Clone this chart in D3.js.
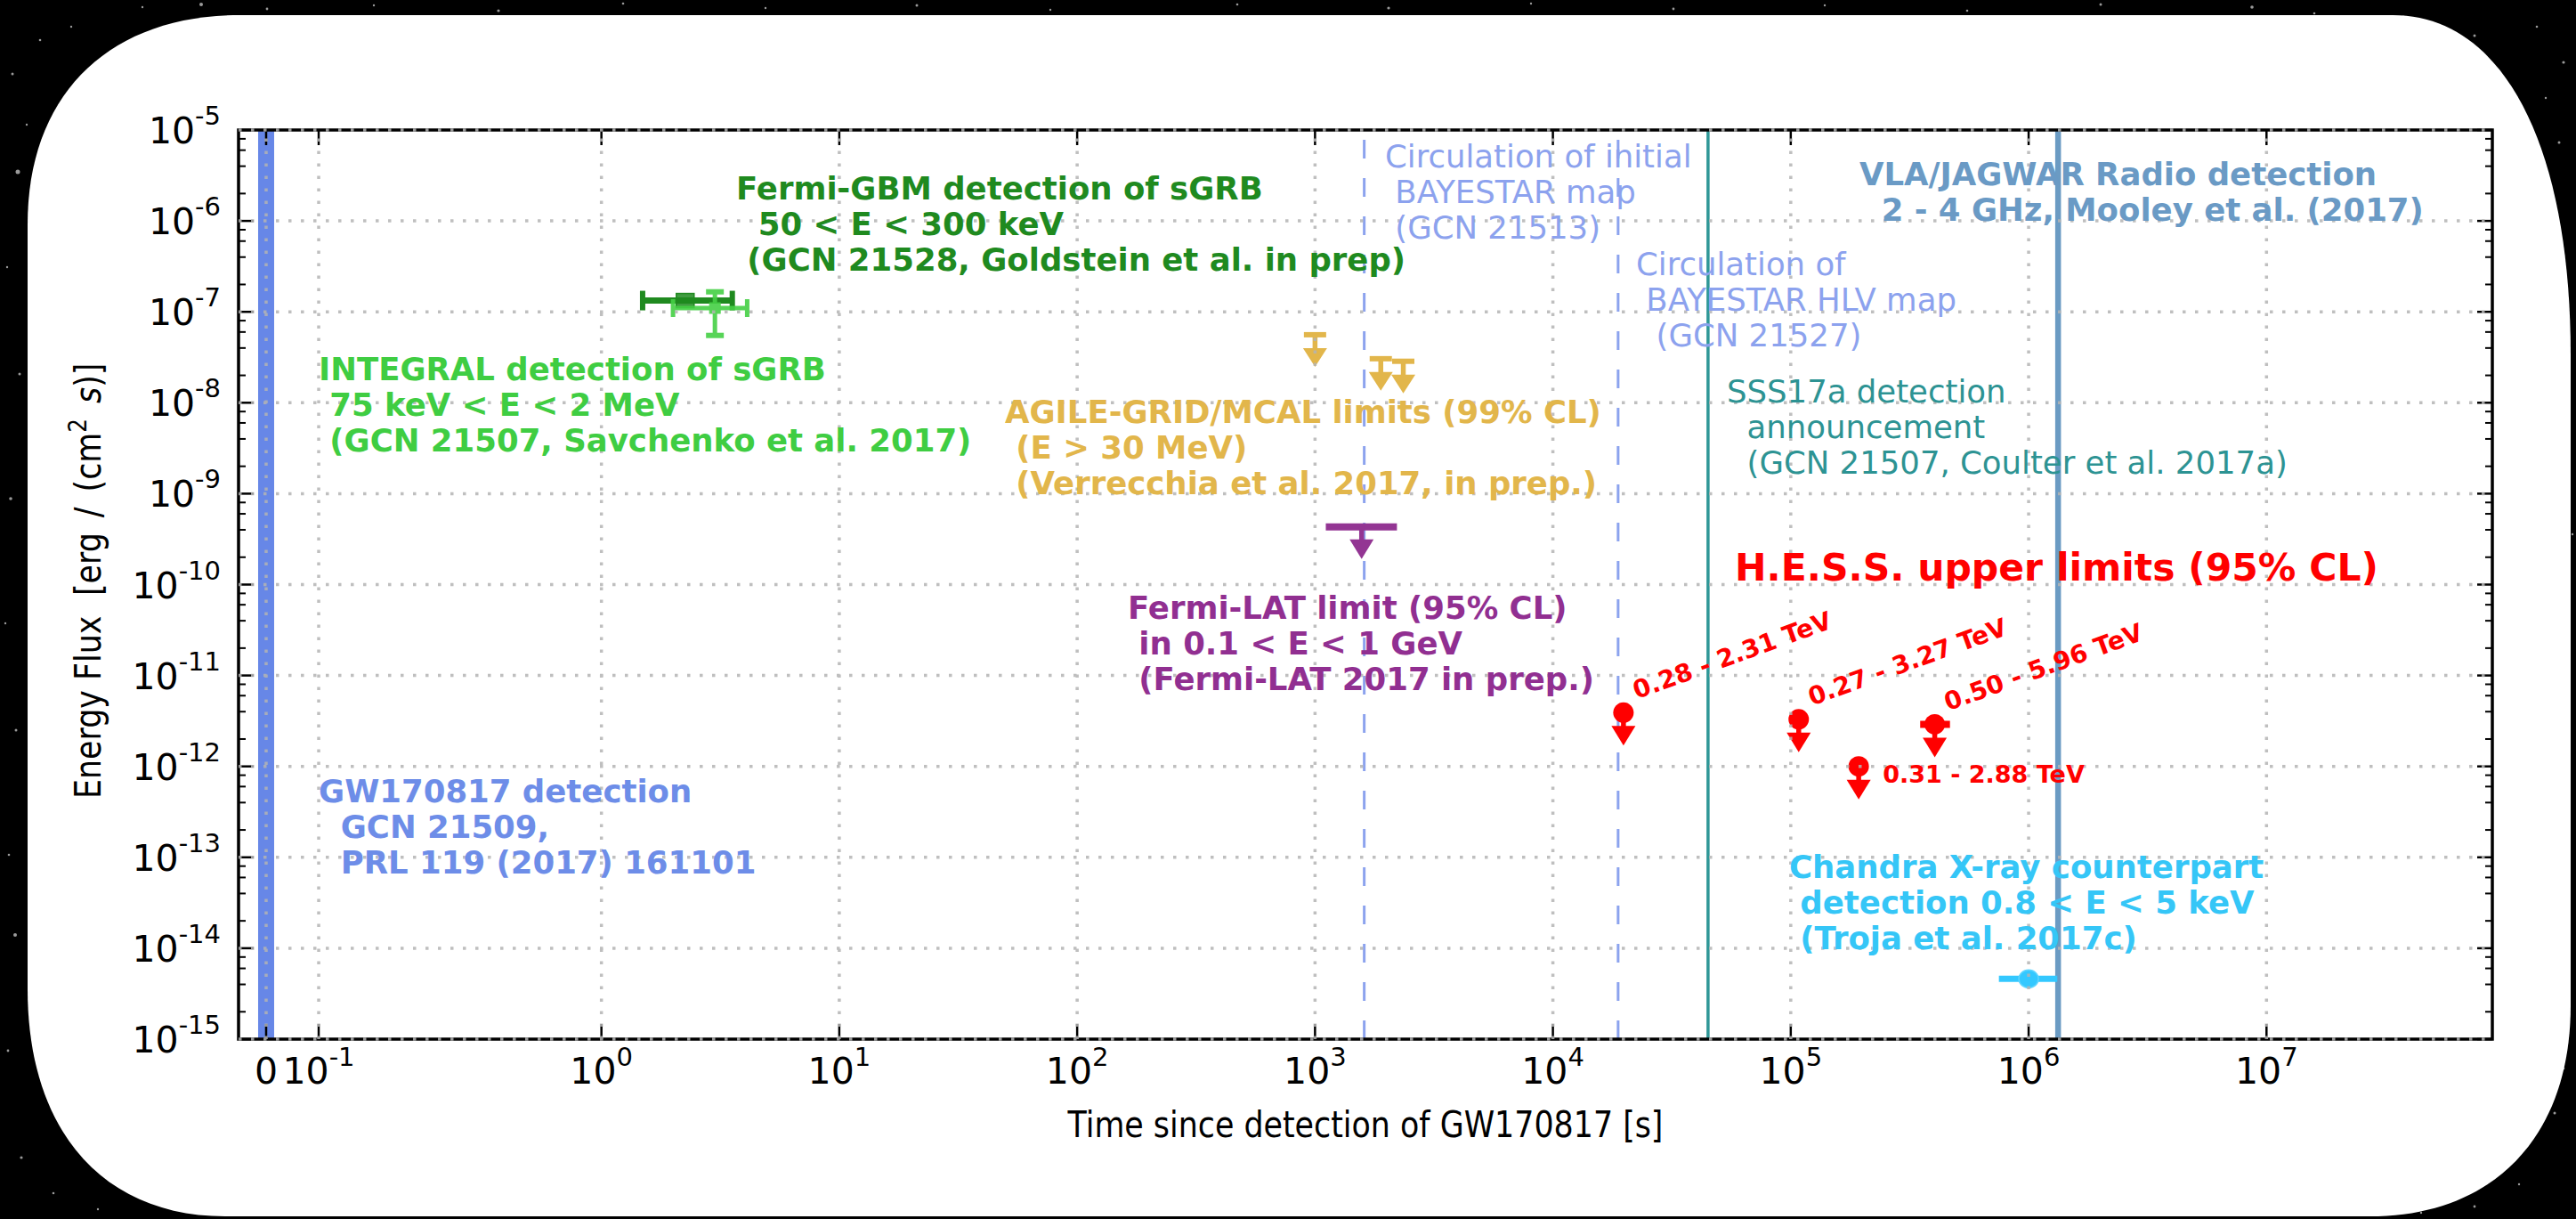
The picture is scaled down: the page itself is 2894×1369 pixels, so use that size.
<!DOCTYPE html>
<html>
<head>
<meta charset="utf-8">
<script src="https://cdn.jsdelivr.net/npm/d3@7"></script>
<style>
  html, body { margin: 0; padding: 0; background: #000; }
  svg { display: block; }
  text { font-family: "DejaVu Sans", "Noto Sans", sans-serif; }
</style>
</head>
<body>
<svg id="chart" width="2894" height="1369"></svg>
<script>
// ---------------- data ----------------
// time of events after GW170817 [s]
const gwTime = 0;
const bayestarTimes = [1610, 1.88e4];          // initial map, HLV map
const sssTime = 4.49e4;                          // SSS17a announcement
const vlaTime = 1.33e6;                          // VLA/JAGWAR radio detection

// prompt emission detections
const gbmPoints = [{ t: 2.25, tMin: 1.49, tMax: 3.55, flux: 1.33e-7 }];
const integralPoints = [{ t: 3.0, tMin: 2.0, tMax: 4.1, flux: 1.1e-7, fluxMin: 5.5e-8, fluxMax: 1.66e-7 }];

// upper limits
const agileLimits = [{ t: 1000, flux: 5.6e-8 }, { t: 1890, flux: 3.05e-8 }, { t: 2350, flux: 2.86e-8 }];
const latLimits = [{ t: 1570, tMin: 1110, tMax: 2210, flux: 4.3e-10 }];
const hessLimits = [
  { t: 1.98e4, flux: 3.9e-12, range: "0.28 - 2.31 TeV" },
  { t: 1.08e5, flux: 3.3e-12, range: "0.27 - 3.27 TeV" },
  { t: 1.93e5, flux: 1.0e-12, range: "0.31 - 2.88 TeV" },
  { t: 4.03e5, tMin: 3.5e5, tMax: 4.67e5, flux: 2.9e-12, range: "0.50 - 5.96 TeV" }
];

// X-ray counterpart
const chandraPoints = [{ t: 1e6, tMin: 7.5e5, tMax: 1.32e6, flux: 4.6e-15 }];

// axis ticks
const xTickValues = [0, 1e-1, 1e0, 1e1, 1e2, 1e3, 1e4, 1e5, 1e6, 1e7];
const xTickExps = [null, "-1", "0", "1", "2", "3", "4", "5", "6", "7"];
const yTickValues = [1e-15, 1e-14, 1e-13, 1e-12, 1e-11, 1e-10, 1e-9, 1e-8, 1e-7, 1e-6, 1e-5];
const yTickExps = ["-15", "-14", "-13", "-12", "-11", "-10", "-9", "-8", "-7", "-6", "-5"];
const yMinorSubs = [2, 4, 6, 8];

// annotation texts
const gwText = ["GW170817 detection", "  GCN 21509,", "  PRL 119 (2017) 161101"];
const gbmText = ["Fermi-GBM detection of sGRB", "  50 < E < 300 keV", " (GCN 21528, Goldstein et al. in prep)"];
const integralText = ["INTEGRAL detection of sGRB", " 75 keV < E < 2 MeV", " (GCN 21507, Savchenko et al. 2017)"];
const agileText = ["AGILE-GRID/MCAL limits (99% CL)", " (E > 30 MeV)", " (Verrecchia et al. 2017, in prep.)"];
const latText = ["Fermi-LAT limit (95% CL)", " in 0.1 < E < 1 GeV", " (Fermi-LAT 2017 in prep.)"];
const bayestarText1 = ["Circulation of initial", " BAYESTAR map", " (GCN 21513)"];
const bayestarText2 = ["Circulation of", " BAYESTAR HLV map", "  (GCN 21527)"];
const sssText = ["SSS17a detection", "  announcement", "  (GCN 21507, Coulter et al. 2017a)"];
const vlaText = ["VLA/JAGWAR Radio detection", "  2 - 4 GHz, Mooley et al. (2017)"];
const chandraText = ["Chandra X-ray counterpart", " detection 0.8 < E < 5 keV", " (Troja et al. 2017c)"];
const hessTitle = "H.E.S.S. upper limits (95% CL)";

// ---------------- layout ----------------
const W = 2894, H = 1369;
const plot = { left: 268, right: 2800, top: 146, bottom: 1167 };

// symmetric-log time axis: linear below linthresh, logarithmic above
const LIN_T = 0.503;
const LIN_S = 1 / (1 - 0.1);
function symlog(t) {
  const a = Math.abs(t), s = Math.sign(t);
  return a < LIN_T ? s * LIN_S * a / LIN_T : s * (LIN_S + Math.log10(a / LIN_T));
}
const xLin = d3.scaleLinear().domain([symlog(-0.0525), symlog(8.9e7)]).range([plot.left, plot.right]);
const x = t => xLin(symlog(t));
const y = d3.scaleLog().domain([1e-15, 1e-5]).range([plot.bottom, plot.top]);

const svg = d3.select("#chart");

// ---------------- backdrop ----------------
svg.append("rect").attr("width", W).attr("height", H).attr("fill", "#000");
const stars = [[20,193,2.5],[14,83,1.5],[8,300,1.2],[22,420,1.5],[12,560,1.8],[6,700,1.2],[18,820,1.5],[10,960,1.3],
  [17,1050,2],[9,1180,1.4],[24,1300,1.6],[60,1340,1.3],[110,1358,1.2],[160,8,1.2],[226,5,2],[300,10,1.4],[420,6,1.2],
  [560,12,1.6],[700,4,1.3],[860,9,1.2],[1030,6,1.5],[1180,11,1.2],[1390,5,1.3],[1560,9,1.6],[1720,4,1.2],[1880,10,1.4],
  [2050,6,1.2],[2210,12,1.3],[2360,5,1.5],[2530,8,1.8],[2600,15,1.3],[2700,20,2.4],[2780,40,1.5],[2850,30,1.3],
  [2880,70,1.6],[2860,110,1.2],[2875,160,1.5],[2890,600,1.2],[2870,1250,1.5],[2830,1330,1.2],[2780,1355,1.4],
  [2720,1362,1.2],[2880,1200,1.3],[45,45,1.3],[80,30,1.2],[30,140,1.2]];
svg.append("g").selectAll("circle").data(stars).join("circle")
  .attr("cx", d => d[0]).attr("cy", d => d[1]).attr("r", d => d[2]).attr("fill", "#9a9a9a");

// rounded white card
function cardPath(l, t, r, b, c, k) {
  const [tl, tr, br, bl] = c;
  return `M${l + tl[0]},${t} L${r - tr[0]},${t}` +
    ` C${r - tr[0] + k * tr[0]},${t} ${r},${t + tr[1] - k * tr[1]} ${r},${t + tr[1]}` +
    ` L${r},${b - br[1]}` +
    ` C${r},${b - br[1] + k * br[1]} ${r - br[0] + k * br[0]},${b} ${r - br[0]},${b}` +
    ` L${l + bl[0]},${b}` +
    ` C${l + bl[0] - k * bl[0]},${b} ${l},${b - bl[1] + k * bl[1]} ${l},${b - bl[1]}` +
    ` L${l},${t + tl[1]}` +
    ` C${l},${t + tl[1] - k * tl[1]} ${l + tl[0] - k * tl[0]},${t} ${l + tl[0]},${t} Z`;
}
svg.append("path")
  .attr("d", cardPath(31, 17, 2888, 1366, [[239, 235], [200, 382], [226, 237], [222, 255]], 0.62))
  .attr("fill", "#fff");

// ---------------- marks ----------------
const marks = svg.append("g");

// GW detection band
marks.append("line")
  .attr("x1", x(gwTime)).attr("x2", x(gwTime)).attr("y1", plot.top).attr("y2", plot.bottom)
  .attr("stroke", "#6787e7").attr("stroke-width", 18);

// BAYESTAR circulation (dashed)
marks.selectAll("line.bayestar").data(bayestarTimes).join("line")
  .attr("class", "bayestar")
  .attr("x1", d => x(d)).attr("x2", d => x(d)).attr("y1", plot.bottom).attr("y2", plot.top)
  .attr("stroke", "#8ca3ee").attr("stroke-width", 3).attr("stroke-dasharray", "21,22");

// SSS17a announcement
marks.append("line")
  .attr("x1", x(sssTime)).attr("x2", x(sssTime)).attr("y1", plot.top).attr("y2", plot.bottom)
  .attr("stroke", "#2f9797").attr("stroke-width", 3.5);

// VLA radio detection
marks.append("line")
  .attr("x1", x(vlaTime)).attr("x2", x(vlaTime)).attr("y1", plot.top).attr("y2", plot.bottom)
  .attr("stroke", "#6b9bc3").attr("stroke-width", 6.5);

// Fermi-GBM
const gbmG = marks.append("g").attr("stroke", "#1f8a1f").attr("fill", "#1f8a1f");
gbmPoints.forEach(d => {
  const yy = y(d.flux);
  gbmG.append("line").attr("x1", x(d.tMin)).attr("x2", x(d.tMax)).attr("y1", yy).attr("y2", yy).attr("stroke-width", 7);
  [d.tMin, d.tMax].forEach(tt => gbmG.append("line").attr("x1", x(tt)).attr("x2", x(tt))
    .attr("y1", yy - 11).attr("y2", yy + 11).attr("stroke-width", 6));
  gbmG.append("rect").attr("x", x(d.t) - 10).attr("y", yy - 8).attr("width", 20).attr("height", 16)
    .attr("stroke-width", 1.5).attr("fill-opacity", 0.85);
});

// INTEGRAL
const intG = marks.append("g").attr("stroke", "#45d045").attr("fill", "#45d045").attr("opacity", 0.9);
integralPoints.forEach(d => {
  const yy = y(d.flux), xx = x(d.t);
  intG.append("line").attr("x1", x(d.tMin)).attr("x2", x(d.tMax)).attr("y1", yy).attr("y2", yy).attr("stroke-width", 5);
  [d.tMin, d.tMax].forEach(tt => intG.append("line").attr("x1", x(tt)).attr("x2", x(tt))
    .attr("y1", yy - 10).attr("y2", yy + 10).attr("stroke-width", 5));
  intG.append("line").attr("x1", xx).attr("x2", xx).attr("y1", y(d.fluxMin)).attr("y2", y(d.fluxMax)).attr("stroke-width", 5);
  [d.fluxMin, d.fluxMax].forEach(ff => intG.append("line").attr("x1", xx - 10).attr("x2", xx + 10)
    .attr("y1", y(ff)).attr("y2", y(ff)).attr("stroke-width", 6));
  intG.append("rect").attr("x", xx - 6).attr("y", yy - 6).attr("width", 12).attr("height", 12).attr("stroke-width", 1);
});

// downward arrow used for upper limits
function arrow(g, cx, cy, color, stem, headTop, headTip, headW) {
  g.append("line").attr("x1", cx).attr("x2", cx).attr("y1", cy).attr("y2", cy + stem)
    .attr("stroke", color).attr("stroke-width", 5.5);
  g.append("path")
    .attr("d", `M${cx - headW / 2},${cy + headTop} L${cx + headW / 2},${cy + headTop} L${cx},${cy + headTip} Z`)
    .attr("fill", color);
}

// AGILE limits
const agG = marks.append("g");
agileLimits.forEach(d => {
  const cx = x(d.t), cy = y(d.flux);
  agG.append("line").attr("x1", cx - 12.5).attr("x2", cx + 12.5).attr("y1", cy).attr("y2", cy)
    .attr("stroke", "#e2b64b").attr("stroke-width", 6);
  arrow(agG, cx, cy, "#e2b64b", 20, 15, 36, 27);
});

// Fermi-LAT limit
const latG = marks.append("g");
latLimits.forEach(d => {
  const cy = y(d.flux);
  latG.append("line").attr("x1", x(d.tMin)).attr("x2", x(d.tMax)).attr("y1", cy).attr("y2", cy)
    .attr("stroke", "#933593").attr("stroke-width", 8);
  arrow(latG, x(d.t), cy, "#933593", 18, 14, 36, 27);
});

// H.E.S.S. upper limits
const hessG = marks.append("g");
hessLimits.forEach(d => {
  const cx = x(d.t), cy = y(d.flux);
  if (d.tMin) hessG.append("line").attr("x1", x(d.tMin)).attr("x2", x(d.tMax)).attr("y1", cy).attr("y2", cy)
    .attr("stroke", "#ff0000").attr("stroke-width", 8);
  arrow(hessG, cx, cy, "#ff0000", 20, 15, 37, 27);
  hessG.append("circle").attr("cx", cx).attr("cy", cy).attr("r", 11.5).attr("fill", "#ff0000");
});

// Chandra
const chG = marks.append("g");
chandraPoints.forEach(d => {
  const cy = y(d.flux);
  chG.append("line").attr("x1", x(d.tMin)).attr("x2", x(d.tMax)).attr("y1", cy).attr("y2", cy)
    .attr("stroke", "#33c8ff").attr("stroke-width", 7);
  chG.append("ellipse").attr("cx", x(d.t)).attr("cy", cy).attr("rx", 11).attr("ry", 10)
    .attr("fill", "#33c8ff").attr("stroke", "#5fd5ff").attr("stroke-width", 1.5);
});

// ---------------- axes ----------------
const axes = svg.append("g");
axes.append("rect")
  .attr("x", plot.left).attr("y", plot.top)
  .attr("width", plot.right - plot.left).attr("height", plot.bottom - plot.top)
  .attr("fill", "none").attr("stroke", "#000").attr("stroke-width", 3.5);

// x ticks (bottom and top, inward)
axes.selectAll("line.xt").data(xTickValues).join("line").attr("class", "xt")
  .attr("x1", d => x(d)).attr("x2", d => x(d)).attr("y1", plot.bottom).attr("y2", plot.bottom - 17)
  .attr("stroke", "#000").attr("stroke-width", 2.5);
axes.selectAll("line.xtt").data(xTickValues).join("line").attr("class", "xtt")
  .attr("x1", d => x(d)).attr("x2", d => x(d)).attr("y1", plot.top).attr("y2", plot.top + 17)
  .attr("stroke", "#000").attr("stroke-width", 2.5);

// y ticks (left and right, inward)
const yMinor = [];
for (let e = -15; e < -5; e++) yMinorSubs.forEach(s => yMinor.push(s * Math.pow(10, e)));
[[plot.left, 1], [plot.right, -1]].forEach(([x0, dir]) => {
  axes.append("g").selectAll("line").data(yTickValues).join("line")
    .attr("x1", x0).attr("x2", x0 + dir * 17).attr("y1", d => y(d)).attr("y2", d => y(d))
    .attr("stroke", "#000").attr("stroke-width", 2.5);
  axes.append("g").selectAll("line").data(yMinor).join("line")
    .attr("x1", x0).attr("x2", x0 + dir * 8).attr("y1", d => y(d)).attr("y2", d => y(d))
    .attr("stroke", "#000").attr("stroke-width", 2);
});

// grid (dotted, drawn over marks and frame)
const grid = svg.append("g").attr("stroke", "#b4b4b4").attr("stroke-width", 3.5)
  .attr("stroke-dasharray", "3.5,10.5").attr("opacity", 0.85);
grid.selectAll("line.gx").data(xTickValues).join("line").attr("class", "gx")
  .attr("x1", d => x(d)).attr("x2", d => x(d)).attr("y1", plot.bottom).attr("y2", plot.top);
grid.selectAll("line.gy").data(yTickValues).join("line").attr("class", "gy")
  .attr("x1", plot.left).attr("x2", plot.right).attr("y1", d => y(d)).attr("y2", d => y(d));

// tick labels
const tickFont = 41, supFont = 29;
const xl = svg.append("g").attr("font-size", tickFont).attr("fill", "#000").attr("text-anchor", "middle");
xTickValues.forEach((v, i) => {
  const t = xl.append("text").attr("x", x(v)).attr("y", plot.bottom + 50);
  t.append("tspan").text(xTickExps[i] === null ? "0" : "10");
  if (xTickExps[i] !== null) t.append("tspan").attr("font-size", supFont).attr("dy", -20).text(xTickExps[i]);
});
const yl = svg.append("g").attr("font-size", tickFont).attr("fill", "#000").attr("text-anchor", "end");
yTickValues.forEach((v, i) => {
  const t = yl.append("text").attr("x", plot.left - 20).attr("y", y(v) + 15);
  t.append("tspan").text("10");
  t.append("tspan").attr("font-size", supFont).attr("dy", -21).text(yTickExps[i]);
});

// axis titles (narrow face)
svg.append("text")
  .attr("transform", `translate(${(plot.left + plot.right) / 2},1277) scale(0.85,1)`)
  .attr("text-anchor", "middle").attr("font-size", 41).attr("fill", "#000")
  .text("Time since detection of GW170817 [s]");
svg.append("text")
  .attr("transform", "translate(113,897) rotate(-90) scale(0.85,1)")
  .attr("text-anchor", "start").attr("font-size", 41).attr("fill", "#000")
  .text("Energy Flux");
const yUnit = svg.append("text")
  .attr("transform", "translate(113,669) rotate(-90) scale(0.85,1)")
  .attr("text-anchor", "start").attr("font-size", 41).attr("fill", "#000")
  .attr("word-spacing", 7);
yUnit.append("tspan").text("[erg / (cm");
yUnit.append("tspan").attr("font-size", 29).attr("dy", -16).text("2");
yUnit.append("tspan").attr("dy", 16).text(" ");
yUnit.append("tspan").attr("font-style", "italic").text("s");
yUnit.append("tspan").text(")]");

// ---------------- annotations ----------------
const ann = svg.append("g");
function block(lines, x0, y0, color, weight, size = 35.5, lh = 40) {
  const t = ann.append("text").attr("font-size", size).attr("font-weight", weight).attr("fill", color);
  lines.forEach((ln, i) => t.append("tspan").attr("x", x0).attr("y", y0 + i * lh)
    .text(ln.replace(/^ +/, m => "\u00a0".repeat(m.length))));
}
block(gwText, 358, 901, "#6d8de8", "bold");
block(gbmText, 827, 224, "#1f8a1f", "bold");
block(integralText, 358, 427, "#3fcd42", "bold");
block(agileText, 1129, 475, "#e2b64b", "bold");
block(latText, 1267, 695, "#912f91", "bold");
block(bayestarText1, 1556, 188, "#8ca2ee", "normal");
block(bayestarText2, 1838, 309, "#8ca2ee", "normal");
block(sssText, 1940, 452, "#2d9393", "normal");
block(vlaText, 2089, 208, "#6a9ac5", "bold");
block(chandraText, 2010, 986, "#35c6f7", "bold");

ann.append("text").attr("x", 1949).attr("y", 652)
  .attr("font-size", 42.5).attr("font-weight", "bold").attr("fill", "#ff0000").text(hessTitle);

// energy range next to each H.E.S.S. limit
const hessLabelRot = [-20, -20, 0, -20];
hessLimits.forEach((d, i) => {
  const rot = hessLabelRot[i];
  const dx = rot ? 15 : 27, dy = rot ? -15 : 18;
  ann.append("text")
    .attr("transform", `translate(${x(d.t) + dx},${y(d.flux) + dy}) rotate(${rot})`)
    .attr("font-size", rot ? 28 : 27).attr("font-weight", "bold").attr("fill", "#ff0000").text(d.range);
});
</script>
</body>
</html>
